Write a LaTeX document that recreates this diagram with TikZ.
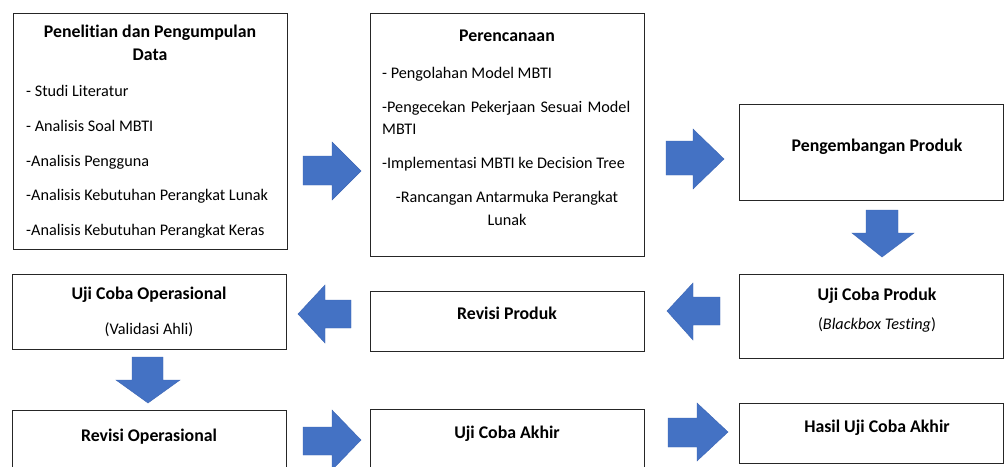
\documentclass[tikz,border=0pt]{standalone}
\usepackage{fontspec}
\setmainfont[Ligatures=NoCommon]{Carlito}
\definecolor{arrowblue}{HTML}{4472C4}
\definecolor{arrowedge}{HTML}{3B65B5}
\begin{document}
\begin{tikzpicture}[x=1pt,y=-1pt,
  box/.style={draw=black!85, line width=0.9pt, fill=white, inner sep=0pt},
  ttl/.style={font=\fontsize{17.8}{21}\selectfont\bfseries, inner sep=0pt, anchor=base},
  itm/.style={font=\fontsize{16.2}{19}\selectfont, inner sep=0pt, anchor=base west},
  ctr/.style={font=\fontsize{16.2}{19}\selectfont, inner sep=0pt, anchor=base},
  blockarrow/.style={fill=arrowblue, draw=arrowedge, line width=0.4pt, line join=miter}]
\useasboundingbox (0,0) rectangle (1004,466);
\clip (0,0) rectangle (1004,466);
\fill[white] (0,0) rectangle (1004,466);

% boxes
\node[box, minimum width=274pt, minimum height=236pt] (A) at (150,131) {};
\node[box, minimum width=274pt, minimum height=243pt] (B) at (507,134.5) {};
\node[box, minimum width=264pt, minimum height=96pt] (C) at (871,152) {};
\node[box, minimum width=264pt, minimum height=84pt] (D) at (871,316) {};
\node[box, minimum width=274pt, minimum height=60pt] (E) at (507,321) {};
\node[box, minimum width=274pt, minimum height=75pt] (F) at (149,311.5) {};
\node[box, minimum width=274pt, minimum height=70pt] (G) at (149,445) {};
\node[box, minimum width=274pt, minimum height=71pt] (H) at (507,444.5) {};
\node[box, minimum width=264pt, minimum height=60pt] (I) at (871,433) {};

% texts box A
\node[ttl] (A-t1) at (150,37) {Penelitian dan Pengumpulan};
\node[ttl] (A-t2) at (150,60) {Data};
\node[itm] (A-i1) at (26,96) {- Studi Literatur};
\node[itm] (A-i2) at (26,131) {- Analisis Soal MBTI};
\node[itm] (A-i3) at (26,166) {-Analisis Pengguna};
\node[itm] (A-i4) at (26,200) {-Analisis Kebutuhan Perangkat Lunak};
\node[itm] (A-i5) at (26,235) {-Analisis Kebutuhan Perangkat Keras};

% texts box B
\node[ttl] (B-t1) at (507,41) {Perencanaan};
\node[itm] (B-i1) at (382,78) {- Pengolahan Model MBTI};
\node[itm] (B-i2) at (382,112) {\makebox[248pt][s]{-Pengecekan Pekerjaan Sesuai Model}};
\node[itm] (B-i3) at (382,134) {MBTI};
\node[itm] (B-i4) at (382,168) {-Implementasi MBTI ke Decision Tree};
\node[ctr] (B-i5) at (507,202) {-Rancangan Antarmuka Perangkat};
\node[ctr] (B-i6) at (507,225) {Lunak};

% other texts
\node[ttl] (C-t) at (877,151) {Pengembangan Produk};
\node[ttl] (D-t1) at (877,300) {Uji Coba Produk};
\node[ctr] (D-t2) at (877,329) {(\textit{Blackbox Testing})};
\node[ttl] (E-t) at (507,319) {Revisi Produk};
\node[ttl] (F-t1) at (149,299) {Uji Coba Operasional};
\node[ctr] (F-t2) at (149,334) {(Validasi Ahli)};
\node[ttl] (G-t) at (149,441) {Revisi Operasional};
\node[ttl] (H-t) at (507,438) {Uji Coba Akhir};
\node[ttl] (I-t) at (877,432) {Hasil Uji Coba Akhir};

% block arrows
\draw[blockarrow] (303,156)--(332,156)--(332,142)--(361,171)--(332,200)--(332,185)--(303,185)--cycle;
\draw[blockarrow] (666,141)--(693,141)--(693,129)--(724,159)--(693,189)--(693,175)--(666,175)--cycle;
\draw[blockarrow] (303,427)--(332,427)--(332,410)--(361,440)--(332,470)--(332,455)--(303,455)--cycle;
\draw[blockarrow] (668,418)--(697,418)--(697,403)--(728,432)--(697,461)--(697,447)--(668,447)--cycle;
\draw[blockarrow] (720,297)--(693,297)--(693,283)--(667,311)--(693,340)--(693,325)--(720,325)--cycle;
\draw[blockarrow] (351,300)--(325,300)--(325,285)--(298,314)--(325,343)--(325,328)--(351,328)--cycle;
\draw[blockarrow] (866,210)--(898,210)--(898,233)--(914,233)--(882,257)--(852,233)--(866,233)--cycle;
\draw[blockarrow] (132,357)--(163,357)--(163,380)--(180,380)--(148,403)--(116,380)--(132,380)--cycle;
\end{tikzpicture}
\end{document}
